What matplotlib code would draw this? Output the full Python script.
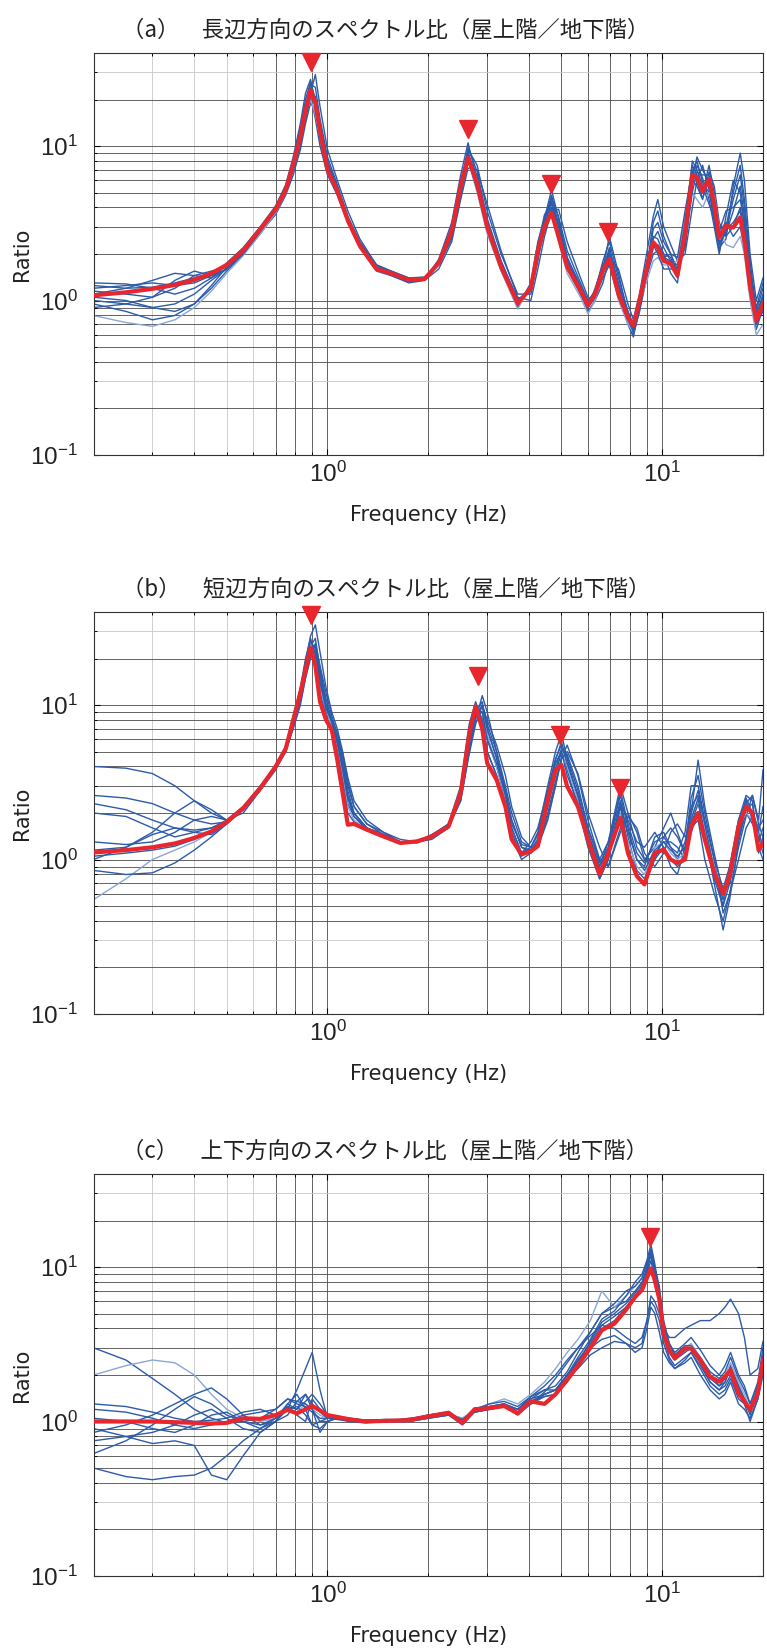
import matplotlib
matplotlib.use('Agg')
import matplotlib.pyplot as plt
from matplotlib.ticker import LogLocator, NullFormatter

plt.rcParams['font.family'] = ['Liberation Sans', 'Noto Sans CJK JP', 'DejaVu Sans']
plt.rcParams['mathtext.fontset'] = 'custom'
plt.rcParams['mathtext.rm'] = 'Liberation Sans'
plt.rcParams['mathtext.it'] = 'Liberation Sans'
plt.rcParams['mathtext.default'] = 'regular'

# --- (a) 長辺方向 ---
freq_a = [0.2, 0.25, 0.3, 0.35, 0.4, 0.45, 0.5,
          0.56, 0.63, 0.7, 0.75, 0.79, 0.83, 0.86, 0.89, 0.92, 0.95,
          1.0, 1.07, 1.15, 1.25, 1.4, 1.55, 1.75, 1.95, 2.15, 2.35,
          2.5, 2.63, 2.8, 3.0, 3.3, 3.7, 4.05, 4.25, 4.45, 4.67,
          4.9, 5.2, 5.7, 6.0, 6.3, 6.65, 6.95, 7.4, 7.9, 8.2,
          8.55, 9.05, 9.4, 9.7, 10.1, 10.6, 11.1, 11.7, 12.3, 12.7,
          13.2, 13.8, 14.3, 14.8, 15.5, 16.3, 17.1, 17.6, 18.3, 19.1, 20.0]
mean_a = [1.08, 1.13, 1.19, 1.26, 1.36, 1.5, 1.7,
          2.1, 2.9, 3.9, 5.2, 7.6, 11.5, 17, 23, 19, 12.5,
          7.0, 5.1, 3.3, 2.25, 1.6, 1.5, 1.36, 1.38, 1.75, 2.8,
          5.5, 8.4, 5.7, 3.0, 1.65, 0.96, 1.2, 2.1, 3.0, 3.7,
          2.6, 1.65, 1.16, 0.93, 1.1, 1.56, 1.86, 1.1, 0.78, 0.69,
          1.0, 1.73, 2.38, 2.2, 1.81, 1.73, 1.45, 2.7, 6.5, 6.25,
          5.1, 6.1, 4.2, 2.56, 3.05, 2.97, 3.45, 2.44, 1.22, 0.74, 0.95]
blue_a = [
    [1.25, 1.2, 1.22, 1.3, 1.4, 1.5, 1.7,
     2.1, 2.8, 3.8, 5.0, 7.0, 10.5, 15, 22, 29, 18,
     9.5, 6.0, 3.8, 2.5, 1.7, 1.5, 1.38, 1.4, 1.7, 2.6,
     5.0, 9.5, 7.5, 3.8, 2.0, 1.1, 1.1, 1.8, 3.2, 4.6,
     3.5, 2.1, 1.3, 1.0, 1.15, 1.8, 2.4, 1.4, 0.85, 0.65,
     0.9, 1.8, 3.2, 3.8, 2.6, 2.0, 1.6, 2.2, 5.5, 7.5,
     6.2, 4.5, 3.0, 2.0, 3.5, 6.0, 5.0, 3.0, 1.5, 0.9, 1.3],
    [0.95, 0.85, 0.75, 0.8, 0.95, 1.2, 1.55,
     2.0, 2.7, 3.7, 5.3, 8.0, 12.5, 18, 21, 15, 10,
     6.5, 4.8, 3.2, 2.2, 1.6, 1.45, 1.3, 1.35, 1.8, 3.0,
     6.0, 9.0, 5.5, 2.8, 1.6, 0.9, 1.25, 2.3, 3.6, 4.2,
     2.8, 1.7, 1.1, 0.85, 1.0, 1.6, 2.0, 1.2, 0.75, 0.6,
     0.85, 1.5, 2.0, 2.1, 1.9, 1.8, 1.7, 3.0, 6.0, 5.5,
     4.5, 6.8, 5.5, 3.2, 2.6, 3.0, 4.0, 2.8, 1.3, 0.7, 0.85],
    [1.15, 1.1, 1.05, 1.2, 1.45, 1.55, 1.65,
     2.05, 2.9, 4.0, 5.5, 8.2, 13, 20, 26, 20, 13,
     7.5, 5.3, 3.4, 2.3, 1.65, 1.5, 1.35, 1.4, 1.7, 2.5,
     4.8, 7.8, 6.5, 3.4, 1.8, 1.0, 1.15, 1.9, 2.8, 4.0,
     3.2, 1.9, 1.25, 0.95, 1.05, 1.4, 1.7, 1.25, 0.85, 0.7,
     0.95, 1.6, 2.2, 2.3, 2.0, 1.9, 1.4, 2.4, 6.8, 8.0,
     5.8, 5.0, 3.6, 2.3, 2.8, 4.5, 6.5, 4.0, 1.6, 0.8, 1.1],
    [1.0, 0.95, 1.05, 1.35, 1.55, 1.45, 1.6,
     2.0, 2.75, 3.6, 4.8, 6.5, 9.5, 14, 19, 17, 12,
     7.8, 5.5, 3.5, 2.4, 1.7, 1.55, 1.4, 1.35, 1.6, 2.4,
     4.5, 7.2, 7.0, 4.2, 2.1, 1.05, 1.0, 1.6, 2.6, 3.8,
     3.9, 2.4, 1.4, 1.05, 1.0, 1.3, 1.9, 1.6, 0.95, 0.75,
     1.1, 2.2, 3.5, 4.5, 3.0, 2.3, 1.8, 2.0, 4.0, 6.0,
     7.5, 5.2, 3.2, 2.2, 2.5, 5.5, 9.0, 6.0, 2.0, 1.0, 1.4],
    [1.2, 1.25, 1.3, 1.25, 1.3, 1.45, 1.75,
     2.2, 3.0, 4.1, 5.6, 8.5, 14, 22, 27, 19, 11,
     6.8, 5.0, 3.2, 2.2, 1.55, 1.45, 1.32, 1.36, 1.85, 3.2,
     6.5, 10.5, 6.0, 3.0, 1.7, 0.92, 1.3, 2.4, 3.4, 4.0,
     2.7, 1.6, 1.1, 0.9, 1.2, 1.7, 2.0, 1.1, 0.7, 0.58,
     0.9, 1.9, 2.6, 2.5, 2.0, 1.5, 1.3, 2.8, 7.5, 6.5,
     5.0, 7.5, 5.0, 2.8, 3.2, 2.6, 3.0, 2.2, 1.1, 0.65, 0.9],
    [0.8, 0.72, 0.68, 0.75, 0.9, 1.15, 1.5,
     1.95, 2.7, 3.7, 5.0, 7.2, 11, 16, 20, 16, 11.5,
     7.2, 5.2, 3.4, 2.3, 1.65, 1.5, 1.37, 1.38, 1.75, 2.9,
     5.8, 8.0, 5.0, 2.7, 1.55, 0.88, 1.25, 2.2, 3.2, 3.6,
     2.4, 1.5, 1.05, 0.82, 1.0, 1.5, 1.75, 1.0, 0.7, 0.62,
     0.95, 1.4, 1.8, 1.9, 1.7, 1.7, 1.8, 3.5, 5.0, 4.5,
     4.0, 5.0, 4.8, 3.0, 2.3, 2.2, 2.6, 2.0, 1.0, 0.6, 0.7],
    [1.1, 1.2, 1.35, 1.5, 1.45, 1.4, 1.6,
     2.05, 2.85, 3.9, 5.4, 7.8, 12, 18, 25, 24, 15,
     8.5, 5.6, 3.5, 2.35, 1.7, 1.55, 1.4, 1.42, 1.7, 2.7,
     5.5, 9.8, 6.8, 3.3, 1.8, 1.02, 1.15, 2.0, 3.4, 5.2,
     3.4, 1.9, 1.2, 0.98, 1.1, 1.6, 2.6, 1.5, 0.8, 0.62,
     0.85, 1.7, 2.9, 3.2, 2.4, 2.0, 1.5, 2.5, 6.0, 8.5,
     7.0, 5.8, 3.5, 2.1, 3.0, 5.0, 7.5, 4.5, 1.8, 0.85, 1.2],
    [0.9, 0.95, 0.9, 0.85, 0.95, 1.25, 1.65,
     2.1, 2.9, 4.0, 5.3, 7.5, 11, 17, 22, 18, 12,
     7.0, 5.0, 3.3, 2.25, 1.6, 1.48, 1.34, 1.38, 1.8, 2.9,
     5.8, 8.2, 5.2, 2.9, 1.6, 0.95, 1.2, 2.2, 3.1, 3.8,
     2.6, 1.7, 1.2, 0.95, 1.15, 1.55, 1.7, 1.05, 0.75, 0.7,
     1.05, 1.9, 2.4, 2.2, 1.9, 2.0, 1.9, 3.8, 7.0, 5.8,
     4.6, 6.0, 4.4, 2.6, 2.9, 3.2, 3.8, 2.6, 1.3, 0.75, 1.0],
    [1.3, 1.28, 1.2, 1.1, 1.2, 1.4, 1.7,
     2.15, 3.0, 4.0, 5.1, 7.0, 10, 15, 21, 21, 14,
     8.0, 5.4, 3.4, 2.3, 1.65, 1.52, 1.38, 1.4, 1.72, 2.6,
     5.2, 8.8, 6.2, 3.2, 1.75, 1.0, 1.2, 2.0, 3.0, 4.4,
     3.0, 1.8, 1.2, 0.95, 1.1, 1.55, 2.2, 1.3, 0.82, 0.66,
     0.92, 1.6, 2.5, 2.8, 2.2, 1.8, 1.5, 2.3, 5.0, 6.8,
     6.5, 6.5, 4.0, 2.4, 2.7, 3.8, 5.5, 3.5, 1.4, 0.8, 1.05],
    [1.05, 1.0, 0.9, 0.95, 1.1, 1.35, 1.6,
     2.0, 2.8, 3.8, 5.1, 7.5, 11.5, 17.5, 24, 20, 12,
     7.2, 5.1, 3.3, 2.25, 1.62, 1.5, 1.36, 1.37, 1.78, 2.8,
     5.6, 9.2, 5.8, 3.0, 1.7, 0.97, 1.2, 2.1, 3.3, 4.8,
     3.1, 1.8, 1.15, 0.9, 1.05, 1.6, 2.1, 1.2, 0.78, 0.64,
     0.95, 1.7, 2.3, 2.0, 1.6, 1.6, 1.6, 3.2, 8.0, 7.0,
     5.5, 4.2, 3.4, 2.8, 3.8, 4.0, 4.5, 3.2, 1.5, 0.72, 0.95],
]
peak_f_a = [0.89, 2.63, 4.65, 6.9]
peak_v_a = [35, 12.8, 5.66, 2.79]

# --- (b) 短辺方向 ---
freq_b = [0.2, 0.25, 0.3, 0.35, 0.4, 0.45, 0.5,
          0.56, 0.63, 0.7, 0.75, 0.79, 0.83, 0.86, 0.89, 0.92, 0.95,
          0.99, 1.03, 1.07, 1.11, 1.15, 1.2, 1.31, 1.47, 1.65, 1.85,
          2.05, 2.3, 2.5, 2.65, 2.77, 2.9, 3.0, 3.2, 3.4, 3.55,
          3.8, 4.05, 4.25, 4.55, 4.8, 5.0, 5.2, 5.6, 6.0, 6.5,
          6.9, 7.5, 7.9, 8.4, 8.85, 9.5, 10.1, 10.6, 11.1, 11.7,
          12.2, 12.8, 13.4, 14.3, 15.2, 15.9, 16.9, 17.8, 18.6, 19.4, 20.0]
mean_b = [1.11, 1.15, 1.2, 1.27, 1.38, 1.52, 1.75,
          2.15, 2.9, 4.0, 5.2, 8.0, 12, 17, 23.5, 18, 10.5,
          8.0, 6.9, 4.4, 2.7, 1.68, 1.7, 1.56, 1.41, 1.28, 1.31,
          1.41, 1.64, 2.7, 6.5, 9.8, 7.0, 4.2, 3.28, 2.2, 1.35,
          1.08, 1.13, 1.22, 2.44, 3.8, 4.1, 2.97, 2.2, 1.35, 0.8,
          1.1, 1.86, 1.1, 0.78, 0.69, 1.1, 1.16, 1.0, 0.95, 1.0,
          1.64, 2.0, 1.35, 0.82, 0.6, 0.78, 1.64, 2.2, 2.0, 1.15, 1.28]
blue_b = [
    [4.0, 3.9, 3.6, 3.0, 2.4, 2.0, 1.8,
     2.2, 2.9, 3.9, 5.0, 7.2, 10.5, 15, 21, 25, 18,
     12, 8.5, 6.5, 4.5, 3.0, 2.2, 1.7, 1.5, 1.35, 1.3,
     1.35, 1.6, 2.5, 5.5, 9.0, 10.5, 7.0, 4.5, 2.6, 1.8,
     1.2, 1.1, 1.3, 2.2, 3.5, 5.0, 4.2, 2.6, 1.5, 0.9,
     1.3, 2.6, 1.6, 1.0, 0.9, 1.4, 1.5, 1.2, 1.0, 1.3,
     2.2, 2.6, 1.6, 0.75, 0.5, 0.9, 1.8, 2.4, 1.8, 1.3, 1.6],
    [2.6, 2.5, 2.3, 2.0, 1.8, 1.7, 1.75,
     2.1, 2.8, 3.8, 5.0, 7.5, 11, 16, 24, 27, 17,
     10, 8.0, 6.0, 4.0, 2.6, 2.0, 1.6, 1.45, 1.3, 1.3,
     1.45, 1.7, 2.8, 6.0, 8.5, 9.0, 6.0, 4.0, 2.4, 1.6,
     1.1, 1.3, 1.6, 2.8, 4.5, 5.5, 3.8, 2.2, 1.2, 0.75,
     1.0, 2.3, 1.8, 1.3, 1.2, 1.5, 1.2, 0.9, 0.8, 1.2,
     2.5, 3.5, 2.0, 1.0, 0.45, 0.6, 1.2, 1.9, 2.6, 1.7, 1.4],
    [2.3, 2.1, 1.8, 1.6, 1.55, 1.6, 1.8,
     2.2, 3.0, 4.0, 5.3, 7.8, 12, 19, 28, 33, 22,
     13, 9.0, 7.0, 5.0, 3.4, 2.4, 1.8, 1.5, 1.3, 1.3,
     1.4, 1.7, 2.6, 5.0, 8.0, 11.5, 9.0, 5.0, 3.0, 2.0,
     1.3, 1.2, 1.2, 1.9, 3.0, 4.5, 5.5, 3.5, 1.8, 1.0,
     0.9, 1.6, 2.0, 1.5, 1.0, 1.0, 1.4, 1.6, 1.4, 1.1,
     1.5, 2.0, 1.4, 0.9, 0.6, 0.7, 1.4, 2.0, 1.7, 1.4, 1.1],
    [2.0, 1.9, 1.6, 1.4, 1.5, 1.6, 1.75,
     2.15, 2.9, 4.0, 5.2, 8.0, 12, 17, 22, 22, 14,
     9.0, 7.5, 5.5, 3.5, 2.3, 1.9, 1.55, 1.45, 1.3, 1.32,
     1.4, 1.65, 2.7, 6.8, 10, 8.0, 5.0, 3.5, 2.2, 1.5,
     1.05, 1.2, 1.5, 3.0, 5.0, 6.5, 4.5, 2.5, 1.3, 0.8,
     1.2, 2.4, 1.4, 0.85, 0.75, 1.1, 1.3, 1.3, 1.2, 1.0,
     1.7, 2.3, 1.5, 0.7, 0.35, 0.55, 1.3, 2.1, 2.3, 1.2, 1.0],
    [1.15, 1.2, 1.5, 2.0, 2.4, 2.1, 1.8,
     2.0, 2.8, 3.9, 5.1, 7.6, 11.5, 17, 24, 24, 16,
     10, 7.5, 5.5, 3.8, 2.5, 2.0, 1.6, 1.45, 1.3, 1.3,
     1.45, 1.65, 2.4, 5.0, 8.5, 10, 7.5, 5.0, 2.8, 1.7,
     1.25, 1.2, 1.25, 2.0, 3.2, 4.5, 4.8, 3.0, 1.6, 1.0,
     1.3, 3.0, 2.0, 1.2, 1.0, 1.2, 1.6, 2.0, 1.5, 1.1,
     2.0, 4.4, 2.2, 1.1, 0.6, 0.7, 1.5, 2.5, 2.0, 1.6, 1.8],
    [0.55, 0.75, 1.0, 1.15, 1.3, 1.5, 1.7,
     2.1, 2.85, 3.9, 5.2, 7.9, 12, 18, 25, 20, 13,
     9.5, 7.2, 5.2, 3.4, 2.2, 1.8, 1.55, 1.42, 1.28, 1.3,
     1.4, 1.6, 2.6, 6.2, 9.5, 9.5, 6.5, 4.0, 2.5, 1.6,
     1.1, 1.15, 1.4, 2.6, 4.0, 5.2, 4.0, 2.4, 1.3, 0.85,
     1.1, 2.0, 1.3, 0.9, 0.8, 1.2, 1.3, 1.1, 1.0, 1.1,
     1.9, 2.4, 1.6, 0.9, 0.55, 0.75, 1.6, 2.0, 1.8, 1.2, 1.3],
    [1.3, 1.25, 1.3, 1.5, 1.8, 1.9, 1.8,
     2.1, 2.9, 3.9, 5.0, 7.0, 10, 15, 20, 23, 17,
     11, 8.0, 6.5, 4.8, 3.2, 2.2, 1.7, 1.45, 1.3, 1.3,
     1.4, 1.6, 2.4, 4.8, 7.5, 10, 8.0, 5.5, 3.5, 2.2,
     1.4, 1.2, 1.2, 1.8, 3.0, 4.5, 5.0, 3.6, 2.0, 1.2,
     0.9, 1.5, 1.9, 1.6, 1.1, 0.9, 1.1, 1.5, 1.7, 1.4,
     1.6, 1.8, 1.0, 0.6, 0.4, 0.6, 1.0, 1.6, 1.9, 1.5, 1.2],
    [1.05, 1.1, 1.15, 1.22, 1.35, 1.5, 1.72,
     2.15, 2.95, 4.1, 5.4, 8.5, 13, 20, 27, 21, 12,
     8.5, 7.0, 5.0, 3.2, 2.0, 1.75, 1.55, 1.4, 1.28, 1.3,
     1.4, 1.7, 3.0, 7.5, 10.5, 8.0, 5.0, 3.5, 2.2, 1.4,
     1.0, 1.1, 1.3, 2.6, 4.2, 5.0, 3.5, 2.3, 1.4, 0.75,
     1.0, 2.2, 1.2, 0.8, 0.7, 1.0, 1.2, 1.0, 0.9, 1.0,
     1.8, 2.5, 1.4, 0.8, 0.55, 0.8, 1.8, 2.6, 2.4, 1.1, 1.4],
    [0.85, 0.8, 0.82, 0.95, 1.15, 1.4, 1.7,
     2.1, 2.9, 4.0, 5.2, 7.8, 11.5, 16, 22, 20, 14,
     9.5, 7.8, 6.0, 4.2, 2.8, 2.0, 1.6, 1.45, 1.3, 1.28,
     1.38, 1.65, 2.6, 5.8, 8.8, 9.8, 7.0, 4.6, 2.8, 1.8,
     1.2, 1.15, 1.35, 2.4, 3.8, 5.2, 4.6, 2.8, 1.6, 0.95,
     1.2, 2.8, 1.7, 1.1, 0.95, 1.3, 1.4, 1.2, 1.1, 1.5,
     3.0, 3.0, 1.8, 1.0, 0.65, 0.9, 1.7, 2.2, 2.0, 1.5, 2.2],
    [1.0, 1.2, 1.45, 1.6, 1.5, 1.45, 1.7,
     2.15, 2.9, 4.0, 5.3, 8.2, 12.5, 19, 26, 23, 15,
     10, 7.8, 5.8, 3.9, 2.5, 1.9, 1.6, 1.45, 1.3, 1.3,
     1.42, 1.68, 2.8, 6.5, 9.5, 9.0, 6.0, 4.2, 2.6, 1.6,
     1.1, 1.2, 1.45, 2.7, 4.4, 5.8, 4.2, 2.6, 1.4, 0.9,
     1.15, 2.2, 1.5, 1.0, 0.85, 1.15, 1.3, 1.15, 1.05, 1.2,
     2.0, 2.8, 1.7, 0.85, 0.5, 0.7, 1.4, 2.3, 2.6, 1.8, 3.8],
]
peak_f_b = [0.89, 2.82, 4.96, 7.46]
peak_v_b = [38, 15.4, 6.4, 2.9]

# --- (c) 上下方向 ---
freq_c = [0.2, 0.25, 0.3, 0.35, 0.4, 0.45, 0.5,
          0.56, 0.63, 0.7, 0.76, 0.81, 0.86, 0.9, 0.95, 1.0, 1.07,
          1.17, 1.3, 1.5, 1.75, 2.0, 2.3, 2.53, 2.75, 3.05, 3.37,
          3.7, 4.05, 4.45, 4.8, 5.2, 5.6, 6.1, 6.6, 7.2, 7.8,
          8.3, 8.7, 9.0, 9.25, 9.5, 9.8, 10.1, 10.5, 10.9, 11.7,
          12.2, 13.0, 13.9, 14.8, 15.4, 16.0, 16.9, 17.6, 18.3, 19.3, 20.0]
mean_c = [1.0, 1.0, 1.0, 0.99, 0.98, 0.97, 0.98,
          1.05, 1.04, 1.1, 1.19, 1.13, 1.2, 1.26, 1.18, 1.1, 1.07,
          1.03, 1.0, 1.01, 1.02, 1.08, 1.14, 0.98, 1.2, 1.22, 1.26,
          1.13, 1.35, 1.3, 1.5, 1.86, 2.3, 3.0, 3.9, 4.3, 5.3,
          6.4, 7.1, 8.5, 9.8, 8.2, 6.2, 3.7, 2.9, 2.56, 2.97,
          2.97, 2.5, 1.95, 1.81, 1.95, 2.15, 1.52, 1.35, 1.19, 1.52, 2.5]
blue_c = [
    [3.0, 2.5, 1.9, 1.5, 1.2, 1.05, 0.98,
     1.0, 1.05, 1.2, 1.4, 1.3, 1.25, 1.15, 1.05, 1.05, 1.05,
     1.02, 1.0, 1.0, 1.02, 1.06, 1.1, 1.05, 1.15, 1.2, 1.25,
     1.2, 1.4, 1.6, 1.7, 2.1, 2.8, 3.8, 5.0, 5.5, 6.0,
     7.0, 8.0, 10, 12, 9.0, 6.0, 3.5, 2.8, 2.5, 2.8,
     3.0, 2.4, 1.8, 1.6, 1.8, 2.3, 1.7, 1.4, 1.1, 1.6, 2.6],
    [2.0, 2.3, 2.5, 2.4, 2.0, 1.5, 1.2,
     1.05, 1.0, 1.05, 1.2, 1.15, 1.3, 1.2, 1.1, 1.05, 1.05,
     1.05, 1.02, 1.0, 1.0, 1.05, 1.12, 1.05, 1.2, 1.3, 1.4,
     1.3, 1.5, 1.8, 2.2, 2.8, 3.4, 4.5, 7.0, 5.5, 6.5,
     7.5, 8.5, 11, 13.5, 10, 6.5, 4.0, 3.0, 2.6, 3.0,
     3.2, 2.6, 2.0, 1.8, 2.0, 2.4, 1.8, 1.5, 1.2, 1.7, 2.8],
    [0.62, 0.75, 0.95, 1.2, 1.45, 1.3, 1.1,
     1.0, 0.95, 1.05, 1.3, 1.5, 1.2, 0.95, 0.9, 1.0, 1.05,
     1.0, 0.98, 1.0, 1.04, 1.1, 1.15, 1.0, 1.18, 1.2, 1.3,
     1.15, 1.3, 1.5, 1.6, 1.9, 2.2, 2.7, 3.0, 3.3, 3.2,
     2.8, 3.0, 4.0, 5.5, 5.0, 3.8, 2.8, 2.4, 2.2, 2.5,
     2.8, 2.2, 1.7, 1.5, 1.6, 1.9, 1.4, 1.3, 1.0, 1.4, 2.2],
    [0.9, 0.8, 0.72, 0.75, 0.7, 0.45, 0.42,
     0.6, 0.85, 1.0, 1.1, 1.35, 1.5, 1.3, 1.15, 1.05, 1.03,
     1.0, 1.02, 1.03, 1.0, 1.05, 1.1, 0.95, 1.15, 1.2, 1.25,
     1.1, 1.3, 1.45, 1.5, 1.9, 2.5, 3.2, 4.2, 4.8, 5.5,
     6.5, 7.5, 9.0, 11, 8.5, 6.0, 3.8, 3.0, 2.7, 3.1,
     3.1, 2.6, 2.1, 1.9, 2.1, 2.6, 1.9, 1.6, 1.3, 1.7, 2.5],
    [0.5, 0.44, 0.42, 0.44, 0.45, 0.5, 0.6,
     0.75, 0.9, 1.05, 1.2, 1.25, 1.1, 0.95, 1.0, 1.05, 1.05,
     1.03, 1.0, 1.02, 1.03, 1.07, 1.12, 1.0, 1.2, 1.25, 1.3,
     1.2, 1.45, 1.6, 1.6, 2.0, 2.5, 3.0, 3.4, 3.6, 3.2,
     3.0, 3.2, 4.5, 6.0, 5.5, 4.5, 3.2, 2.5, 2.2, 2.4,
     2.6, 2.0, 1.6, 1.4, 1.5, 1.8, 1.3, 1.2, 1.05, 1.4, 2.0],
    [0.85, 0.95, 1.1, 1.3, 1.5, 1.65, 1.4,
     1.1, 0.95, 1.0, 1.2, 1.6, 2.2, 2.8, 1.6, 1.05, 1.05,
     1.0, 1.0, 1.02, 1.02, 1.06, 1.12, 1.02, 1.2, 1.25, 1.3,
     1.2, 1.4, 1.5, 1.6, 2.0, 2.6, 3.4, 4.6, 5.2, 6.5,
     8.0, 9.0, 11, 14, 10.5, 7.0, 4.2, 3.2, 2.8, 3.2,
     3.5, 2.9, 2.3, 2.0, 2.3, 2.8, 2.0, 1.7, 1.3, 1.8, 3.0],
    [1.2, 1.15, 1.05, 0.95, 0.9, 0.95, 1.0,
     1.1, 1.15, 1.2, 1.4, 1.35, 1.3, 1.2, 1.0, 1.0, 1.05,
     1.02, 1.0, 1.0, 1.0, 1.05, 1.1, 1.0, 1.15, 1.2, 1.25,
     1.15, 1.3, 1.55, 1.9, 2.4, 3.0, 3.6, 4.2, 4.0, 3.5,
     3.2, 3.5, 4.5, 6.5, 6.0, 5.0, 4.0, 3.5, 3.5, 4.0,
     4.2, 4.5, 4.5, 5.0, 5.5, 6.2, 5.0, 3.5, 2.0, 2.2, 3.3],
    [1.05, 1.0, 0.9, 0.85, 0.95, 1.1, 1.15,
     1.0, 0.9, 1.0, 1.25, 1.1, 1.0, 1.4, 1.2, 1.1, 1.05,
     1.02, 1.0, 1.0, 1.02, 1.1, 1.15, 0.97, 1.22, 1.25, 1.3,
     1.15, 1.35, 1.45, 1.5, 1.8, 2.3, 3.0, 4.0, 4.5, 5.5,
     6.5, 7.5, 9.5, 12.5, 9.5, 6.0, 3.5, 2.6, 2.3, 2.6,
     2.8, 2.3, 1.8, 1.6, 1.7, 2.0, 1.5, 1.3, 1.15, 1.5, 2.4],
    [1.3, 1.25, 1.15, 1.05, 1.0, 1.02, 1.05,
     1.15, 1.2, 1.1, 1.25, 1.2, 1.35, 1.5, 1.3, 1.1, 1.08,
     1.05, 1.02, 1.03, 1.03, 1.1, 1.15, 1.0, 1.2, 1.3, 1.35,
     1.25, 1.45, 1.7, 2.0, 2.5, 3.0, 3.8, 5.0, 5.8, 7.0,
     7.5, 8.5, 10.5, 13, 10, 7.5, 4.5, 3.2, 2.7, 3.0,
     3.0, 2.4, 1.9, 1.7, 1.9, 2.2, 1.6, 1.4, 1.2, 1.6, 2.7],
    [0.75, 0.8, 0.85, 0.95, 1.1, 1.2, 1.05,
     0.9, 0.85, 1.0, 1.3, 1.2, 1.5, 1.2, 0.85, 1.0, 1.08,
     1.0, 1.02, 1.0, 1.05, 1.08, 1.12, 1.03, 1.18, 1.22, 1.28,
     1.15, 1.35, 1.5, 1.6, 2.0, 2.4, 3.3, 4.4, 5.0, 5.8,
     6.8, 7.8, 9.5, 12, 9.0, 6.5, 3.8, 2.9, 2.6, 2.9,
     3.0, 2.5, 2.0, 1.7, 1.8, 2.2, 1.7, 1.4, 1.15, 1.6, 2.6],
]
peak_f_c = [9.2]
peak_v_c = [15.6]

titles = ['（a）　長辺方向のスペクトル比（屋上階／地下階）',
          '（b）　短辺方向のスペクトル比（屋上階／地下階）',
          '（c）　上下方向のスペクトル比（屋上階／地下階）']
light = [[5], [5], [1]]

BLUE = '#2c5ba9'
LIGHT = '#8aa6d6'
RED = '#e8262d'

W, H = 767, 1652
fig = plt.figure(figsize=(W / 100, H / 100), dpi=100)

tops = [53, 612, 1174]
ax_h = 402
left, right = 93.5, 763

panels = [(freq_a, mean_a, blue_a, peak_f_a, peak_v_a),
          (freq_b, mean_b, blue_b, peak_f_b, peak_v_b),
          (freq_c, mean_c, blue_c, peak_f_c, peak_v_c)]

for i, (fr, mean, blues, pf, pv) in enumerate(panels):
    ax = fig.add_axes([left / W, 1 - (tops[i] + ax_h) / H, (right - left) / W, ax_h / H])
    ax.set_xscale('log')
    ax.set_yscale('log')
    ax.set_xlim(0.2, 20)
    ax.set_ylim(0.1, 40)

    for k, b in enumerate(blues):
        ax.plot(fr, b, color=LIGHT if k in light[i] else BLUE, lw=1.0, zorder=2)
    ax.plot(fr, mean, color=RED, lw=3.0, zorder=3)
    ax.plot(pf, pv, 'v', color=RED, markersize=13, zorder=4, clip_on=False)

    ax.xaxis.set_minor_locator(LogLocator(base=10, subs=range(2, 10)))
    ax.yaxis.set_minor_locator(LogLocator(base=10, subs=range(2, 10)))
    ax.xaxis.set_minor_formatter(NullFormatter())
    ax.yaxis.set_minor_formatter(NullFormatter())
    ax.grid(True, which='both', color='#4a4a4a', lw=0.6)
    ax.set_axisbelow(True)
    ax.tick_params(which='both', direction='in', top=True, right=True, colors='black', labelcolor='#222222')
    ax.tick_params(which='major', length=4, width=0.8, labelsize=17.5)
    ax.tick_params(which='minor', length=2.5, width=0.7)
    ax.tick_params(axis='x', which='major', pad=5)
    ax.tick_params(axis='y', which='major', pad=11)
    for s in ax.spines.values():
        s.set_linewidth(0.8)
        s.set_color('#333333')

    ax.annotate(titles[i], xy=(0, 1), xycoords='axes fraction',
                xytext=(122 - left, 23), textcoords='offset pixels',
                ha='left', va='center', fontsize=16.1, color='#222222',
                family=['Noto Sans CJK JP', 'DejaVu Sans'])
    ax.annotate('Frequency (Hz)', xy=(0.5, 0), xycoords='axes fraction',
                xytext=(0, -60), textcoords='offset pixels',
                ha='center', va='center', fontsize=15, color='#222222',
                family='DejaVu Sans')
    fig.text(21.7 / W, 1 - (tops[i] + ax_h / 2) / H, 'Ratio', rotation=90,
             ha='center', va='center', fontsize=15, color='#222222',
             family='DejaVu Sans')

    fig.canvas.draw()
    for t in ax.xaxis.get_minor_ticks():
        if 0.25 < t.get_loc() < 0.65:
            t.gridline.set_color('#c8c8c8')
    for t in ax.yaxis.get_minor_ticks():
        if 25 < t.get_loc() < 35 or 0.25 < t.get_loc() < 0.35:
            t.gridline.set_color('#c8c8c8')

fig.savefig('out.png', dpi=100)
